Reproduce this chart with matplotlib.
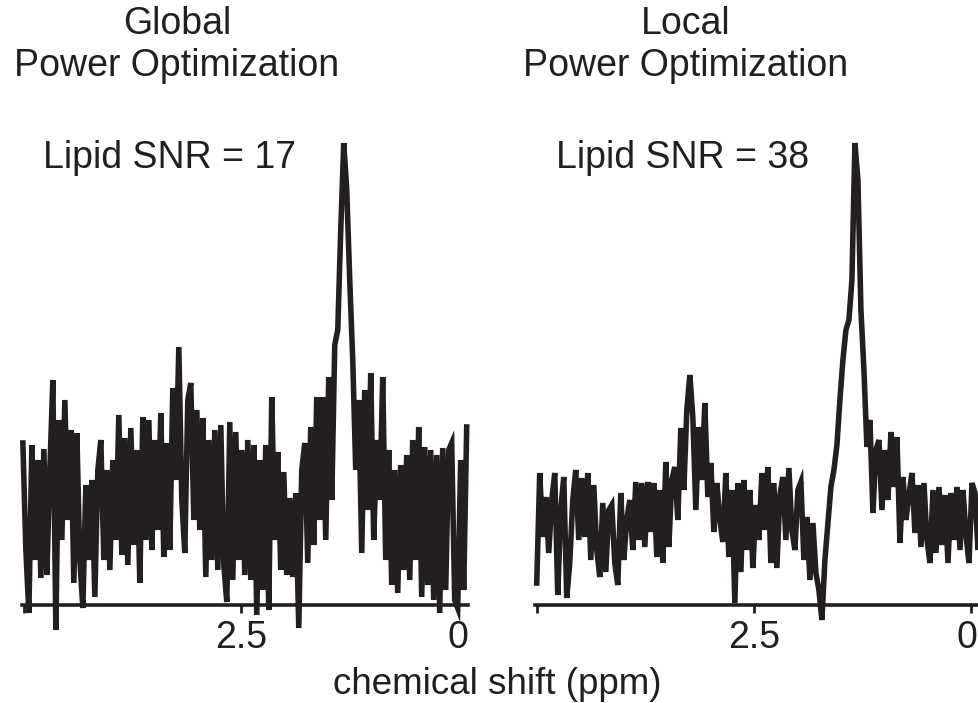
import numpy as np
import matplotlib
matplotlib.use("Agg")
import matplotlib.pyplot as plt

plt.rcParams["font.family"] = ["Liberation Sans", "DejaVu Sans"]

INK = "#231f20"

# signal height above baseline (a.u.)
global_opt = [
    162, 55, -8, 160, 45, 145, 27, 156, 30, 135,
    225, -25, 185, 65, 205, 85, 175, 22, 172, 45,
    -3, 120, 45, 125, 8, 135, 165, 45, 135, 35,
    145, 65, 190, 50, 167, 40, 177, 60, 155, 22,
    188, 65, 185, 55, 165, 75, 192, 48, 162, 55,
    217, 125, 258, 105, 52, 205, 222, 85, 195, 75,
    187, 28, 165, 45, 175, 35, 180, 40, 3, 183,
    25, 173, 45, 155, 30, 165, 25, 160, -10, 145,
    15, 160, -5, 208, 65, 153, 35, 133, 30, 107,
    28, 112, -23, 135, 162, 42, 178, 60, 208, 85,
    208, 65, 228, 105, 260, 275, 375, 462, 415, 325,
    245, 135, 205, 52, 215, 95, 232, 65, 165, 105,
    228, 45, 155, 20, 135, 12, 140, 35, 150, 25,
    165, 45, 178, 8, 158, 20, 155, 5, 150, -8,
    157, 15, 155, 162, 5, -3, 145, 15, 178,
]

local_opt = [
    22, 132, 68, 108, 52, 105, 132, 10, 95, 128,
    7, 42, 105, 135, 65, 127, 68, 132, 45, 120,
    55, 28, 102, 33, 95, 100, 42, 20, 112, 45,
    85, 105, 55, 123, 65, 122, 58, 123, 73, 122,
    48, 115, 42, 143, 58, 125, 138, 85, 177, 115,
    195, 230, 188, 95, 178, 125, 202, 108, 142, 73,
    122, 85, 63, 132, 48, 115, 2, 122, 33, 125,
    55, 115, 37, 100, 65, 132, 75, 138, 42, 122,
    37, 110, 128, 65, 137, 75, 55, 115, 123, 45,
    88, 25, 82, 32, 15, -15, 45, 82, 118, 135,
    160, 205, 245, 275, 285, 325, 462, 425, 295, 235,
    158, 185, 92, 155, 165, 95, 155, 105, 173, 118,
    168, 62, 128, 85, 110, 132, 72, 120, 58, 122,
    65, 42, 115, 52, 118, 60, 110, 42, 112, 65,
    118, 55, 115, 70, 42, 122, 112, 55, 110,
]

# chemical shift grid of each trace (ppm), first and last sampled point
global_ppm = np.linspace(5.01, -0.10, len(global_opt))
local_ppm = np.linspace(5.0, -0.115, len(local_opt))

titles = ["Global\nPower Optimization", "Local\nPower Optimization"]
snr_labels = ["Lipid SNR = 17", "Lipid SNR = 38"]
tick_pos = [5.0, 2.5, 0.0]
tick_text = ["", "2.5", "0"]

W, H = 979, 703
fig = plt.figure(figsize=(W / 100, H / 100), dpi=100)

panels = [
    (global_ppm, global_opt, 22, 177, 170),
    (local_ppm, local_opt, 535, 686, 683),
]

for k, (ppm, sig, left_px, title_x, snr_x) in enumerate(panels):
    ax = fig.add_axes([left_px / W, (H - 605) / H, 446 / W, 470 / H])
    ax.plot(ppm, sig, color=INK, lw=4.0, clip_on=False, solid_joinstyle="miter")
    ax.set_xlim(5.02, -0.115)
    ax.set_ylim(0, 470)
    for side in ["top", "right", "left"]:
        ax.spines[side].set_visible(False)
    ax.spines["bottom"].set_linewidth(2.6)
    ax.spines["bottom"].set_color(INK)
    ax.set_yticks([])
    ax.set_xticks(tick_pos)
    labels = list(tick_text)
    if k == 1:
        labels[-1] = ""  # drawn below, nudged in from the figure edge
    ax.set_xticklabels(labels)
    ax.tick_params(axis="x", direction="out", length=6, width=2, color=INK,
                   labelsize=27, labelcolor=INK, pad=5)

    if k == 1:
        ax.annotate(tick_text[-1], xy=(tick_pos[-1], 0), xycoords=("data", "axes fraction"),
                    xytext=(-3, -11), textcoords="offset points", ha="center", va="top",
                    fontsize=27, color=INK, annotation_clip=False)

    fig.text(title_x / W, 1 - 45 / H, titles[k], ha="center", va="center",
             fontsize=27, color=INK, linespacing=1.22)
    fig.text(snr_x / W, 1 - 158 / H, snr_labels[k], ha="center", va="center",
             fontsize=27, color=INK)

fig.text(497 / W, 1 - 685 / H, "chemical shift (ppm)", ha="center", va="center",
         fontsize=26.5, color=INK)

fig.savefig("out.png", dpi=100)
